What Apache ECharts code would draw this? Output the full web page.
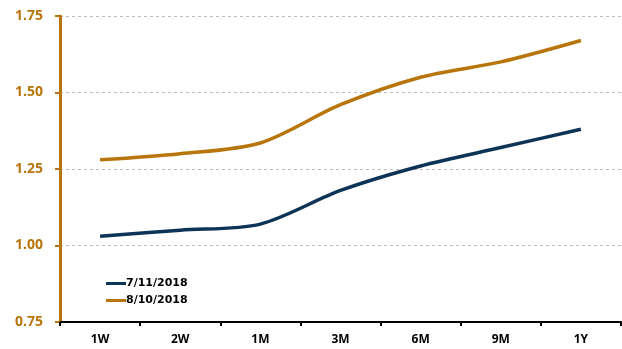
<!DOCTYPE html>
<html>
<head>
<meta charset="utf-8">
<script src="https://cdn.jsdelivr.net/npm/echarts@6/dist/echarts.min.js"></script>
<style>
  html, body { margin: 0; padding: 0; background: #fff; }
  #chart { width: 622px; height: 349px; }
</style>
</head>
<body>
<div id="chart"></div>
<script>
// Tenors along the curve
const tenors = ['1W', '2W', '1M', '3M', '6M', '9M', '1Y'];
// Rate curves (%) on two dates
const curveJul = [1.03, 1.05, 1.07, 1.18, 1.26, 1.32, 1.38];
const curveAug = [1.28, 1.30, 1.335, 1.46, 1.55, 1.60, 1.67];
const seriesNames = ['7/11/2018', '8/10/2018'];

const NAVY = '#0d3457';
const GOLD = '#b7750b';

const chart = echarts.init(document.getElementById('chart'));
chart.setOption({
  animation: false,
  grid: { left: 60, right: 1, top: 16, bottom: 27 },
  legend: {
    orient: 'vertical',
    left: 101,
    top: 273,
    itemWidth: 20,
    itemHeight: 3,
    itemGap: 6,
    icon: 'rect',
    textStyle: { fontFamily: 'DejaVu Sans', fontWeight: 'bold', fontSize: 11, color: '#000', padding: [0, 0, 0, -5] },
    data: seriesNames
  },
  xAxis: {
    type: 'category',
    data: tenors,
    boundaryGap: true,
    axisLine: { lineStyle: { color: '#000', width: 2 } },
    axisTick: { show: true, length: 4, lineStyle: { color: '#000', width: 2 } },
    axisLabel: { margin: 12, fontFamily: 'Open Sans', fontWeight: 'bold', fontSize: 12, color: '#000' }
  },
  yAxis: {
    type: 'value',
    min: 0.75,
    max: 1.75,
    interval: 0.25,
    axisLine: { show: true, lineStyle: { color: GOLD, width: 3 } },
    axisTick: { show: true, length: 5, lineStyle: { color: GOLD, width: 2 } },
    axisLabel: {
      margin: 17,
      fontFamily: 'Open Sans', fontWeight: 'bold', fontSize: 14, color: GOLD,
      formatter: v => v.toFixed(2)
    },
    splitLine: { lineStyle: { color: '#bdbdbd', type: [3, 3], width: 1 } }
  },
  series: [
    {
      name: seriesNames[0], type: 'line', data: curveJul, smooth: 0.3,
      symbol: 'none', lineStyle: { color: NAVY, width: 3.5 }, itemStyle: { color: NAVY }
    },
    {
      name: seriesNames[1], type: 'line', data: curveAug, smooth: 0.3,
      symbol: 'none', lineStyle: { color: GOLD, width: 3.5 }, itemStyle: { color: GOLD }
    }
  ]
});
</script>
</body>
</html>
